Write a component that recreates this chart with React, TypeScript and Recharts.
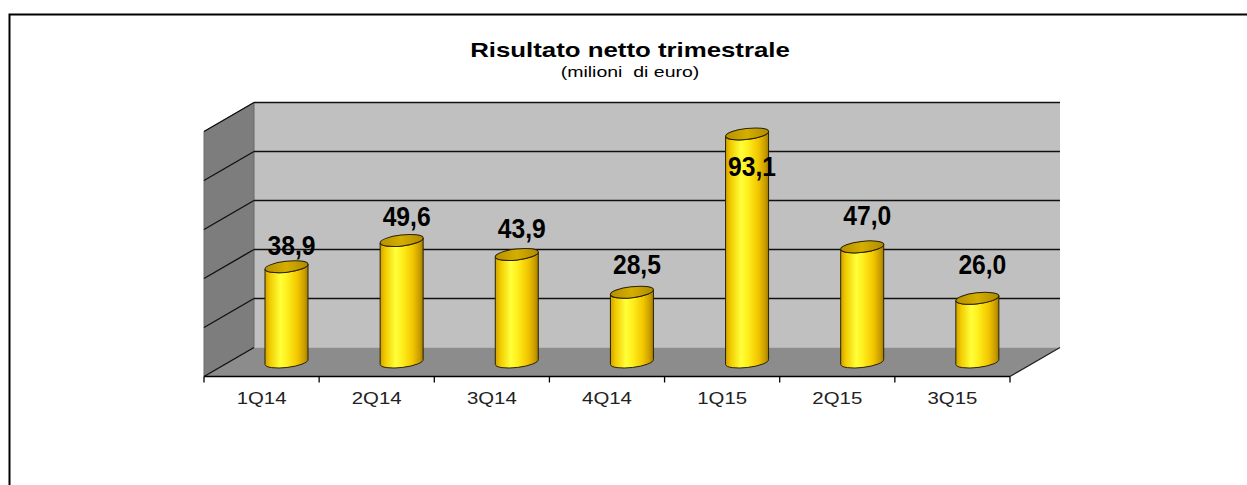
import { BarChart, Bar, XAxis, YAxis, CartesianGrid, LabelList } from 'recharts';

const quarters = ['1Q14', '2Q14', '3Q14', '4Q14', '1Q15', '2Q15', '3Q15'];
const netResult = [38.9, 49.6, 43.9, 28.5, 93.1, 47.0, 26.0];
const valueTicks = [0, 20, 40, 60, 80, 100];

const data = quarters.map((q, i) => ({ q, value: netResult[i] }));

const W = 1247;
const H = 485;
const X_AXIS_H = 40;
const margin = { top: 117, right: 212, bottom: 83, left: 229 };
// plot area = middle depth plane of the 3D box
const PLOT = { left: 229, top: 117, width: 806, height: 245 };
const HX = 25; // half depth, x
const HY = 14.5; // half depth, y
const FONT = '"Liberation Sans", Arial, sans-serif';

const fmt = (v: number) => v.toFixed(1).replace('.', ',');

// frame, titles and the walls of the 3D box, drawn behind the chart svg
const Backdrop = () => {
  const bottom = PLOT.top + PLOT.height;
  const right = PLOT.left + PLOT.width;
  const fl = PLOT.left - HX;
  const bl = PLOT.left + HX;
  const fr = right - HX;
  const br = right + HX;
  return (
    <svg width={W} height={H} style={{ position: 'absolute', left: 0, top: 0 }}>
      <rect x={9.5} y={14.5} width={1400} height={700} fill="#fff" stroke="#000" strokeWidth={2} />
      <text transform="translate(630 57) scale(1.23 1)" textAnchor="middle" fontFamily={FONT} fontWeight="bold" fontSize={21} fill="#000">
        Risultato netto trimestrale
      </text>
      <text transform="translate(630 77) scale(1.3 1)" textAnchor="middle" fontFamily={FONT} fontSize={15} fill="#000" style={{ whiteSpace: 'pre' }}>
        (milioni  di euro)
      </text>
      <rect x={bl} y={PLOT.top - HY} width={PLOT.width} height={PLOT.height} fill="#c0c0c0" />
      <polygon
        points={`${fl},${PLOT.top + HY} ${bl},${PLOT.top - HY} ${bl},${bottom - HY} ${fl},${bottom + HY}`}
        fill="#7d7d7d"
        stroke="#6a6a6a"
      />
      <polygon
        points={`${fl},${bottom + HY} ${bl},${bottom - HY} ${br},${bottom - HY} ${fr},${bottom + HY}`}
        fill="#8c8c8c"
      />
      <line x1={fr} y1={bottom + HY} x2={br} y2={bottom - HY} stroke="#222" strokeWidth={1.3} />
      <line x1={fl} y1={bottom + HY} x2={fr} y2={bottom + HY} stroke="#000" strokeWidth={1.5} />
    </svg>
  );
};

const GridLine = (props: any) => {
  const { y1 } = props;
  const by = y1 - HY;
  const isFloor = y1 > PLOT.top + PLOT.height - 1;
  return (
    <g key={props.key}>
      <line x1={PLOT.left - HX} y1={y1 + HY} x2={PLOT.left + HX} y2={by} stroke="#111" strokeWidth={1.4} />
      {!isFloor && (
        <line x1={PLOT.left + HX} y1={by} x2={PLOT.left + PLOT.width + HX} y2={by} stroke="#111" strokeWidth={1.4} />
      )}
    </g>
  );
};

const QuarterTick = (props: any) => {
  const { x, y, payload, index } = props;
  const fx = x - HX;
  const band = PLOT.width / quarters.length;
  const edgeY = PLOT.top + PLOT.height + HY;
  return (
    <g>
      <line x1={fx - band / 2} x2={fx - band / 2} y1={edgeY} y2={edgeY + 6} stroke="#000" strokeWidth={1.3} />
      {index === quarters.length - 1 && (
        <line x1={fx + band / 2} x2={fx + band / 2} y1={edgeY} y2={edgeY + 6} stroke="#000" strokeWidth={1.3} />
      )}
      <text transform={`translate(${fx} ${y + 34}) scale(1.2 1)`} textAnchor="middle" fontFamily={FONT} fontSize={17} fill="#222">
        {payload.value}
      </text>
    </g>
  );
};

const Cylinder = (props: any) => {
  const { x, y, width: w, height: h } = props;
  if (w == null || h == null) return null;
  const ry = 5.5;
  const t = 2.5;
  const rx = Math.sqrt(w * w + 4 * t * t) / 2;
  const rot = (Math.atan2(-2 * t, w) * 180) / Math.PI;
  const yb = y + h;
  const cx = x + w / 2;
  const body = `M ${x} ${y + t} L ${x} ${yb + t} A ${rx} ${ry} ${rot} 0 0 ${x + w} ${yb - t} L ${x + w} ${y - t} A ${rx} ${ry} ${rot} 0 1 ${x} ${y + t} Z`;
  return (
    <g>
      <path d={body} fill="url(#cylBody)" stroke="#2a2200" strokeWidth={1} />
      <ellipse cx={cx} cy={y} rx={rx} ry={ry} transform={`rotate(${rot} ${cx} ${y})`} fill="url(#cylTop)" stroke="#2a2200" strokeWidth={1} />
    </g>
  );
};

const ValueLabel = (props: any) => {
  const { x, y, width, value, index } = props;
  const cx = x + width / 2 + 5;
  const base = Math.max(y - 12 - 2 * index, PLOT.top + 59);
  return (
    <text
      transform={`translate(${cx} ${base}) scale(0.88 1)`}
      textAnchor="middle"
      fontFamily={FONT}
      fontWeight="bold"
      fontSize={28}
      fill="#000"
    >
      {fmt(value)}
    </text>
  );
};

export default function App() {
  return (
    <div style={{ position: 'absolute', left: 0, top: 0, width: W, height: H, background: '#fff' }}>
      <Backdrop />
      <div style={{ position: 'absolute', left: 0, top: 0 }}>
        <BarChart width={W} height={H} data={data} margin={margin} barSize={43}>
          <defs>
            <linearGradient id="cylBody" x1="0" y1="0" x2="1" y2="0">
              <stop offset="0%" stopColor="#cfa200" />
              <stop offset="12%" stopColor="#f2cc00" />
              <stop offset="36%" stopColor="#ffff3a" />
              <stop offset="52%" stopColor="#ffee1c" />
              <stop offset="76%" stopColor="#f2c600" />
              <stop offset="92%" stopColor="#c99c00" />
              <stop offset="100%" stopColor="#a07c00" />
            </linearGradient>
            <linearGradient id="cylTop" x1="0" y1="0" x2="1" y2="0">
              <stop offset="0%" stopColor="#b89000" />
              <stop offset="50%" stopColor="#d4ae00" />
              <stop offset="100%" stopColor="#b08a00" />
            </linearGradient>
          </defs>
          <CartesianGrid vertical={false} horizontal={GridLine} />
          <XAxis dataKey="q" height={X_AXIS_H} axisLine={false} tickLine={false} interval={0} tick={QuarterTick} />
          <YAxis hide domain={[0, 100]} ticks={valueTicks} />
          <Bar dataKey="value" isAnimationActive={false} shape={Cylinder}>
            <LabelList dataKey="value" content={ValueLabel} />
          </Bar>
        </BarChart>
      </div>
    </div>
  );
}
